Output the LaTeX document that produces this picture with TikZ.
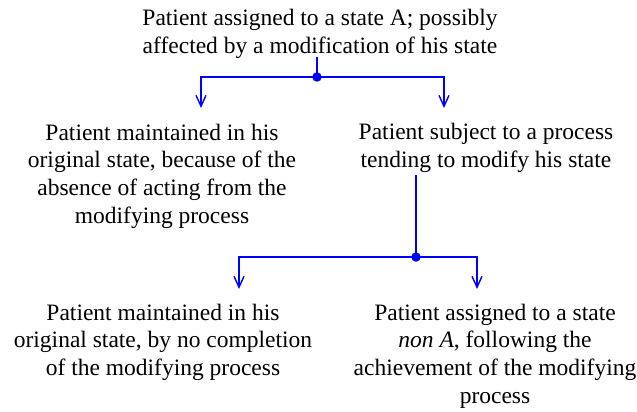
\documentclass[tikz,border=0pt]{standalone}
\usepackage{fontspec}
\setmainfont{Liberation Serif}
\usetikzlibrary{arrows.meta}
\begin{document}
\begin{tikzpicture}[x=1pt,y=-1pt,
  txt/.style={align=center,inner sep=0pt,font=\fontsize{23.5}{27.6}\selectfont},
  conn/.style={draw={rgb,255:red,0;green,0;blue,255},line width=1.4pt},
  arr/.style={conn,-{Straight Barb[length=11pt,width=10pt,line width=1.4pt]}},
  dotted node/.style={circle,fill={rgb,255:red,0;green,0;blue,255},inner sep=0pt,minimum size=9.5pt}]
\useasboundingbox (0,0) rectangle (637,412);
\node[txt] (top) at (320,34) {Patient assigned to a state A; possibly\\affected by a modification of his state};
\node[txt] (lm) at (162,176) {Patient maintained in his\\original state, because of the\\absence of acting from the\\modifying process};
\node[txt] (rm) at (486,148) {Patient subject to a process\\tending to modify his state};
\node[txt] (bl) at (163,342) {Patient maintained in his\\original state, by no completion\\of the modifying process};
\node[txt] (br) at (495,356) {Patient assigned to a state\\\textit{non A}, following the\\achievement of the modifying\\process};
\node[dotted node] (d1) at (317,77) {};
\node[dotted node] (d2) at (416,257) {};
\coordinate (a1) at (201,108);
\coordinate (a2) at (444,108);
\coordinate (a3) at (239,289);
\coordinate (a4) at (477,289);
\draw[conn] (d1 |- 0,57) -- (d1.center);
\draw[conn] (d2 |- 0,175) -- (d2.center);
\draw[arr] (d1.center) -| (a1);
\draw[arr] (d1.center) -| (a2);
\draw[arr] (d2.center) -| (a3);
\draw[arr] (d2.center) -| (a4);
\end{tikzpicture}
\end{document}
